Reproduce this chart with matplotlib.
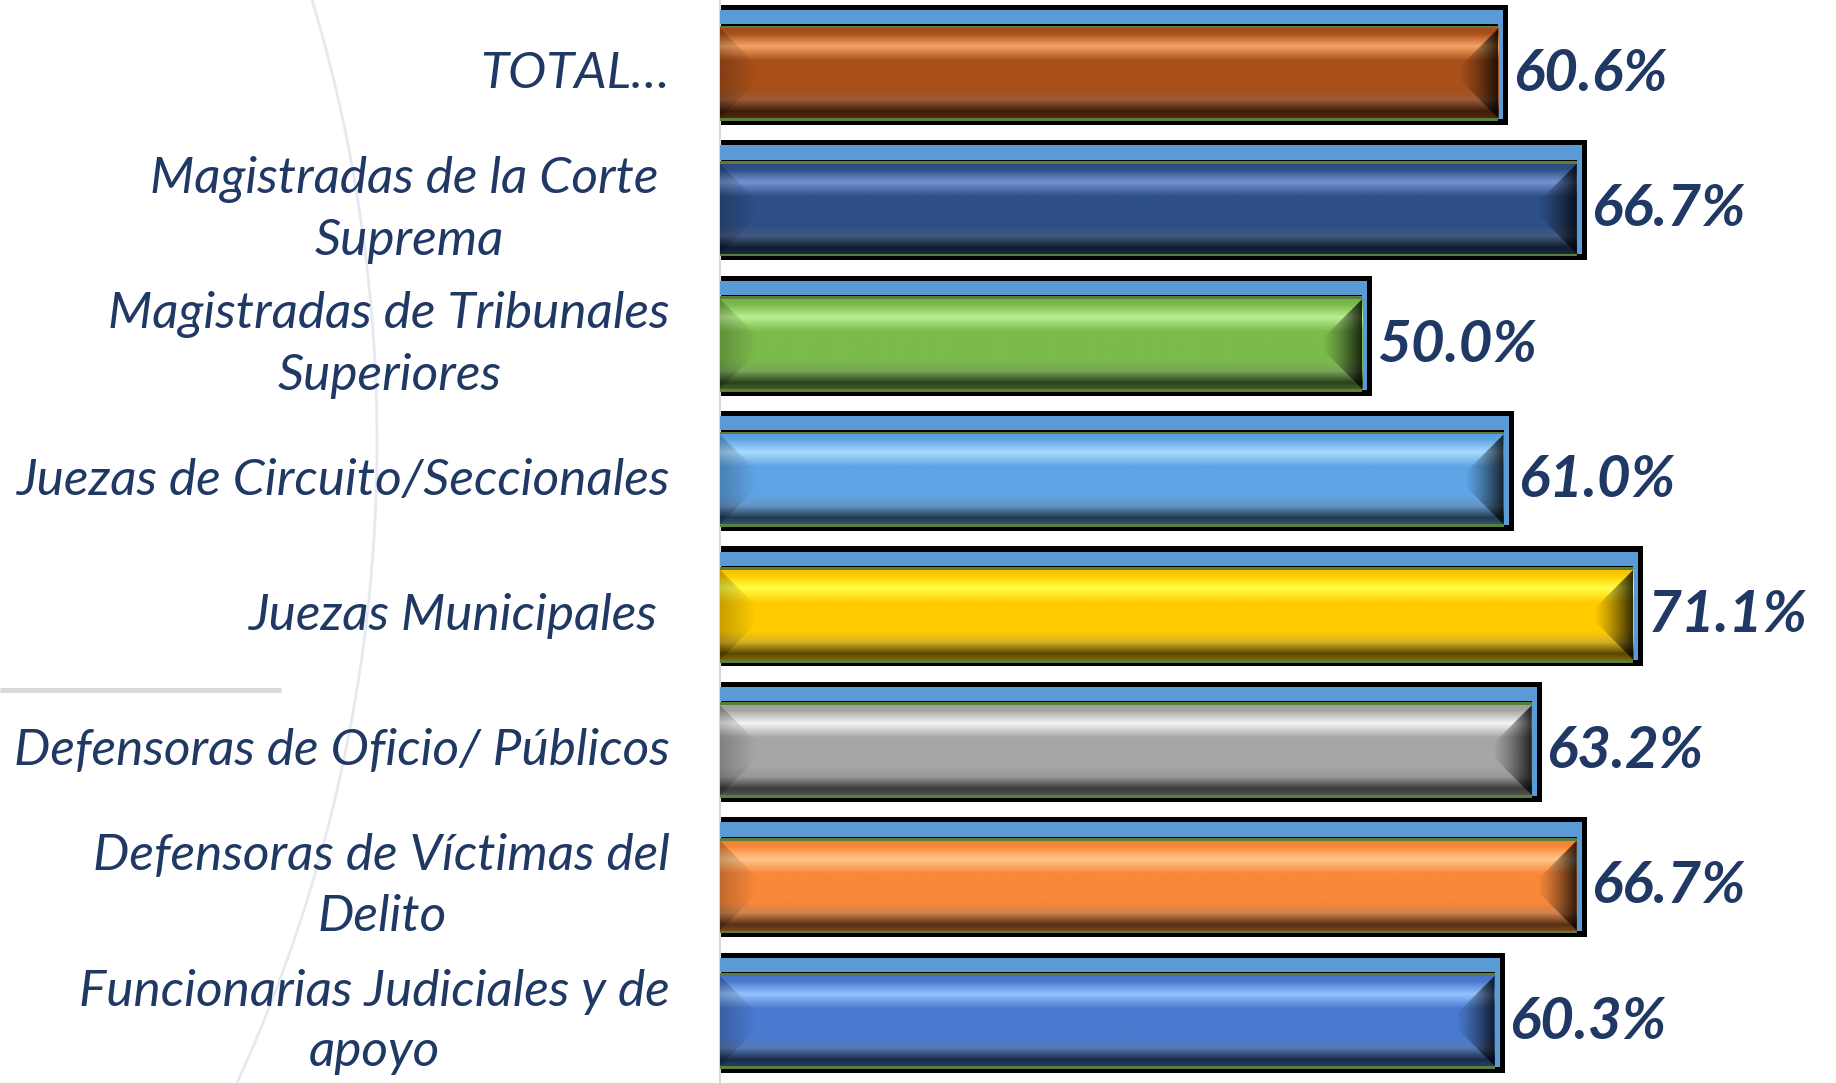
import numpy as np
import matplotlib
matplotlib.use('Agg')
import matplotlib.pyplot as plt
from matplotlib.patches import Rectangle, Polygon, Arc
from matplotlib.colors import to_rgb

categories = ['TOTAL…',
              'Magistradas de la Corte \nSuprema',
              'Magistradas de Tribunales\nSuperiores',
              'Juezas de Circuito/Seccionales',
              'Juezas Municipales ',
              'Defensoras de Oficio/ Públicos',
              'Defensoras de Víctimas del\nDelito',
              'Funcionarias Judiciales y de\napoyo']
values = [60.6, 66.7, 50.0, 61.0, 71.1, 63.2, 66.7, 60.3]
base_colors = ['#A9501A', '#2D4F86', '#7BBA4C', '#5FA4E6',
               '#FFCC00', '#A6A6A6', '#F8883A', '#4A7BD0']
highlight_colors = ['#F6A365', '#7393D2', '#B8F08F', '#A8DBFF',
                    '#FFFF44', '#F4F4F4', '#FFC58A', '#94C2FF']

NAVY = '#1F3864'
FONT = ['Lato', 'DejaVu Sans']
W, H = 1836, 1083
X0 = 720            # pixel where the value axis starts
PX_PER_PCT = 12.845
PITCH = H / len(values)


def body_gradient(base, hl, n=240):
    c = np.array(to_rgb(base))
    h = np.array(to_rgb(hl))
    grey = np.array([0.5, 0.5, 0.5])
    stops = [0.0, 0.06, 0.2, 0.36, 0.68, 0.8, 0.93, 1.0]
    cols = [c * 0.95, c, h, c, c, c * 0.7 + grey * 0.3 * 0.9, c * 0.35, c * 0.5]
    cols = np.array(cols)
    t = np.linspace(0, 1, n)
    img = np.zeros((n, 1, 3))
    for k in range(3):
        img[:, 0, k] = np.interp(t, stops, cols[:, k])
    return np.clip(img, 0, 1)


fig = plt.figure(figsize=(W / 100, H / 100), dpi=100)
fig.patch.set_facecolor('white')

# decoration behind the chart
bg = fig.add_axes([0, 0, 1, 1], zorder=0)
bg.set_xlim(0, W)
bg.set_ylim(H, 0)
bg.axis('off')
bg.add_patch(Arc((-1160, 442), 2 * 1537, 2 * 1537, theta1=-30, theta2=30,
                 color='#E6E9F1', lw=2))
bg.plot([0, 281], [690, 690], color='#D9D9D9', lw=3.6, solid_capstyle='butt')

ax = fig.add_axes([X0 / W, 0, 1 - X0 / W, 1], zorder=1)
ax.set_facecolor('none')

bh = 120 / PITCH                 # black box height (category units)
edge = 10 / PX_PER_PCT           # black box extends past the body
strip = 5 / PX_PER_PCT
bev_x = 37 / PX_PER_PCT
bev_y = 37 / PITCH

for i, (v, bc, hc) in enumerate(zip(values, base_colors, highlight_colors)):
    top = i - 0.02 - bh / 2

    def fy(f):
        return top + f * bh

    ax.add_patch(Rectangle((0, top), v + edge, bh, color='black', zorder=2, lw=0))
    ax.add_patch(Rectangle((0, fy(0.042)), v + strip, fy(0.161) - fy(0.042),
                           color='#5B9BD5', zorder=3, lw=0))
    ax.add_patch(Rectangle((0, fy(0.172)), v, fy(0.967) - fy(0.172),
                           color='#5A7F3A', zorder=3, lw=0))
    ax.add_patch(Rectangle((v, fy(0.06)), strip, fy(0.95) - fy(0.06),
                           color='#5B9BD5', zorder=3, lw=0))

    t, b = fy(0.194), fy(0.944)
    ax.imshow(body_gradient(bc, hc), extent=(0, v, b, t), aspect='auto',
              interpolation='bilinear', zorder=4)

    # right bevel
    rpoly = Polygon([(v, t), (v - bev_x, t + bev_y), (v - bev_x, b - bev_y), (v, b)],
                    closed=True, transform=ax.transData)
    shade = np.zeros((1, 60, 4))
    shade[0, :, 3] = np.linspace(0.1, 0.85, 60) ** 1.4
    im = ax.imshow(shade, extent=(v - bev_x, v, b, t), aspect='auto',
                   interpolation='bilinear', zorder=5)
    im.set_clip_path(rpoly)

    # left bevel
    lpoly = Polygon([(0, t), (bev_x, t + bev_y), (bev_x, b - bev_y), (0, b)],
                    closed=True, transform=ax.transData)
    shade = np.zeros((1, 60, 4))
    shade[0, :, 3] = np.linspace(0.22, 0.0, 60)
    im = ax.imshow(shade, extent=(0, bev_x, b, t), aspect='auto',
                   interpolation='bilinear', zorder=5)
    im.set_clip_path(lpoly)

    ax.text(v + edge + 0.35, i + 0.05, f'{v:.1f}%', ha='left', va='center',
            fontsize=42, fontweight='bold', fontstyle='italic', color=NAVY,
            family=FONT, zorder=6)

    ax.text(-50 / (W - X0), i + 0.05, categories[i], transform=ax.get_yaxis_transform(),
            ha='right', va='center', multialignment='center', linespacing=1.4,
            fontsize=37, fontstyle='italic', color=NAVY, family=FONT, clip_on=False)

ax.set_xlim(0, (W - X0) / PX_PER_PCT)
ax.set_ylim(len(values) - 0.5, -0.5)
ax.set_yticks([])
ax.set_xticks([])
for s in ['top', 'right', 'bottom']:
    ax.spines[s].set_visible(False)
ax.spines['left'].set_color('#D9D9D9')
ax.spines['left'].set_linewidth(1.5)

fig.savefig('out.png', dpi=100, facecolor='white')
